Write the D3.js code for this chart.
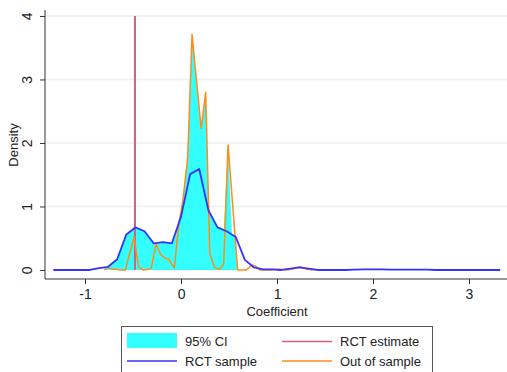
<!DOCTYPE html>
<html><head><meta charset="utf-8">
<script src="https://cdn.jsdelivr.net/npm/d3@7"></script>
<style>body{margin:0;background:#fff;} svg{display:block;font-family:"Liberation Sans",Arial,sans-serif;}</style>
</head><body>
<svg id="c" width="507" height="372"></svg>
<script>
const xTicks = [-1, 0, 1, 2, 3];
const yTicks = [0, 1, 2, 3, 4];
const rctEstimate = -0.48;

const rctX = [-1.33,-1.235,-1.14,-1.045,-0.95,-0.855,-0.76,-0.665,-0.57,-0.475,-0.38,-0.285,-0.19,-0.095,0.0,0.095,0.19,0.285,0.38,0.475,0.57,0.665,0.76,0.855,0.95,1.045,1.14,1.235,1.33,1.425,1.52,1.615,1.71,1.805,1.9,1.995,2.09,2.185,2.28,2.375,2.47,2.565,2.66,2.755,2.85,2.945,3.04,3.135,3.23,3.325];
const rctY = [0,0,0,0,0,0.03,0.05,0.17,0.56,0.67,0.61,0.42,0.44,0.42,0.84,1.51,1.59,0.94,0.67,0.61,0.52,0.16,0.04,0.01,0.01,0.0,0.02,0.04,0.02,0.0,0.0,0.0,0.0,0.005,0.01,0.01,0.01,0.005,0.005,0.005,0.005,0.005,0.0,0.0,0.0,0.0,0.0,0.0,0.0,0.0];

const oosX = [-0.80,-0.77,-0.72,-0.68,-0.63,-0.58,-0.49,-0.44,-0.39,-0.34,-0.31,-0.26,-0.21,-0.16,-0.13,-0.07,-0.02,0.02,0.07,0.115,0.162,0.21,0.257,0.30,0.35,0.40,0.445,0.49,0.59,0.68,0.74,0.78,0.82,0.92,1.02,1.10,1.17,1.24,1.31,1.40,1.52];
const oosY = [0,0.04,0.02,0.01,0.0,0.0,0.52,0.04,0.0,0.01,0.03,0.41,0.24,0.18,0.17,0.03,0.75,1.10,1.78,3.71,2.97,2.23,2.80,0.26,0.04,0.01,0.10,1.97,0.0,0.0,0.08,0.06,0.0,0.0,0.01,0.0,0.02,0.05,0.01,0.0,0.0];

const ciX = [-0.80,-0.76,-0.665,-0.57,-0.49,-0.475,-0.38,-0.285,-0.19,-0.095,-0.07,-0.02,0.02,0.07,0.115,0.162,0.21,0.257,0.29,0.38,0.445,0.49,0.53,0.57,0.59];
const ciHi = [0,0.05,0.17,0.56,0.66,0.67,0.61,0.42,0.44,0.42,0.5,0.78,1.10,1.78,3.71,2.97,2.23,2.80,0.92,0.67,0.63,1.97,0.56,0.52,0];
const ciLo = ciX.map(() => 0);

const svg = d3.select("#c");
const m = {l:45, r:2, t:10, b:93};
const W = 507, H = 372;
const x = d3.scaleLinear().domain([-1.417, 3.375]).range([m.l, W - m.r]);
const y = d3.scaleLinear().domain([-0.142, 4.094]).range([H - m.b, m.t]);
const FONT = "Liberation Sans, Arial, sans-serif";

// grid
svg.append("g").selectAll("line").data(yTicks.filter(d => d > 0)).join("line")
  .attr("x1", m.l).attr("x2", W).attr("y1", d => y(d)).attr("y2", d => y(d))
  .attr("stroke", "#eaf2f3").attr("stroke-width", 1.5);

// CI area
const area = d3.area().x(d => x(d[0])).y0(d => y(d[2])).y1(d => y(d[1]));
svg.append("path").datum(ciX.map((v, i) => [v, ciHi[i], ciLo[i]]))
  .attr("d", area).attr("fill", "#33ffff");

// RCT estimate line
svg.append("line").attr("x1", x(rctEstimate)).attr("x2", x(rctEstimate))
  .attr("y1", y(0)).attr("y2", y(4)).attr("stroke", "#d2607c").attr("stroke-width", 2);

const line = d3.line().x(d => x(d[0])).y(d => y(d[1]));
svg.append("path").datum(oosX.map((v, i) => [v, oosY[i]]))
  .attr("d", line).attr("fill", "none").attr("stroke", "#ff8c1a").attr("stroke-width", 1.5).attr("stroke-linejoin", "round");
svg.append("path").datum(rctX.map((v, i) => [v, rctY[i]]))
  .attr("d", line).attr("fill", "none").attr("stroke", "#3333ff").attr("stroke-width", 1.8).attr("stroke-linejoin", "round");

// axes
const fmt = d => String(d);
const xAxis = d3.axisBottom(x).tickValues(xTicks).tickSize(5).tickPadding(5).tickFormat(fmt);
const gx = svg.append("g").attr("transform", `translate(0,${H - m.b})`).call(xAxis);
gx.select(".domain").attr("d", `M${m.l},0H${W}`).attr("stroke", "#333");
gx.selectAll(".tick line").attr("stroke", "#333");
gx.selectAll("text").attr("font-size", 14).attr("fill", "#222").attr("font-family", FONT);

const yAxis = d3.axisLeft(y).tickValues(yTicks).tickSize(5).tickFormat(fmt);
const gy = svg.append("g").attr("transform", `translate(${m.l},0)`).call(yAxis);
gy.select(".domain").attr("d", `M0,${m.t}V${H - m.b}`).attr("stroke", "#333");
gy.selectAll(".tick line").attr("stroke", "#333");
gy.selectAll(".tick text").attr("font-size", 14).attr("fill", "#222").attr("font-family", FONT)
  .attr("text-anchor", "middle").attr("x", null).attr("dy", "0.35em")
  .attr("transform", "translate(-18,0) rotate(-90)");

svg.append("text").attr("x", 277).attr("y", 316).attr("text-anchor", "middle")
  .attr("font-size", 13).attr("fill", "#222").text("Coefficient");
svg.append("text").attr("transform", "translate(18,145) rotate(-90)").attr("text-anchor", "middle")
  .attr("font-size", 13).attr("fill", "#222").text("Density");

// legend
const lg = svg.append("g");
lg.append("rect").attr("x", 121.5).attr("y", 326.5).attr("width", 311).attr("height", 60)
  .attr("fill", "#fff").attr("stroke", "#555").attr("stroke-width", 1);
const legendLabels = ["95% CI", "RCT estimate", "RCT sample", "Out of sample"];
const legendColors = ["#33ffff", "#d2607c", "#3333ff", "#ff8c1a"];
const pos = [[127, 341.5], [282, 341.5], [127, 361], [282, 361]];
legendLabels.forEach((lab, i) => {
  const [px, py] = pos[i];
  if (i === 0) lg.append("rect").attr("x", px).attr("y", py - 8.5).attr("width", 50).attr("height", 15).attr("fill", legendColors[i]);
  else lg.append("line").attr("x1", px).attr("x2", px + 50).attr("y1", py).attr("y2", py).attr("stroke", legendColors[i]).attr("stroke-width", 1.5);
  lg.append("text").attr("x", px + 58).attr("y", py).attr("dy", "0.35em").attr("font-size", 13).attr("fill", "#222").text(lab);
});
</script>
</body></html>
